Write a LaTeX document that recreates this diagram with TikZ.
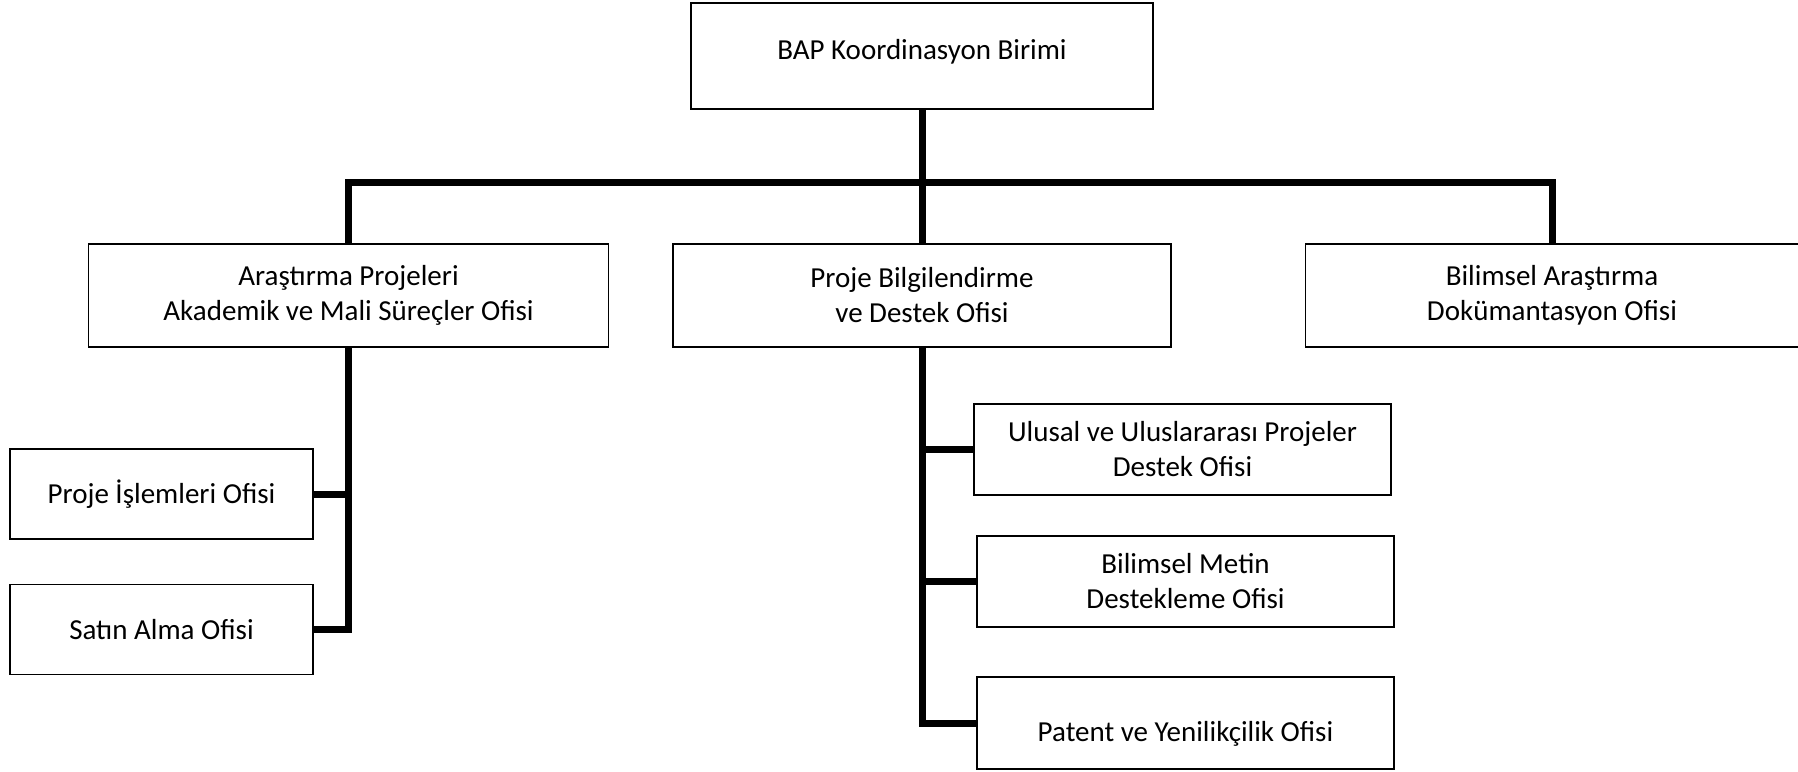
\documentclass[tikz,border=0pt]{standalone}
\usepackage{fontspec}
\setmainfont{Carlito}
\usetikzlibrary{positioning}
\tikzstyle{office} = [draw, line width=1.5pt, align=center, inner sep=0pt,
    font=\fontsize{29}{35}\selectfont]
\tikzstyle{link} = [line width=7pt]

\begin{document}
\begin{tikzpicture}[x=1pt, y=-1pt]

    \useasboundingbox (0, 0) rectangle (1798, 771);

    \node[office, minimum width=462, minimum height=106, text depth=14pt] (bap)
        at (922, 56) {BAP Koordinasyon Birimi};

    \node[office, minimum width=520, minimum height=103] (arge) at (348.5, 295.5)
        {Araştırma Projeleri\\Akademik ve Mali Süreçler Ofisi};
    \node[office, minimum width=498, minimum height=103] (bilgi) at (922, 295.5)
        {Proje Bilgilendirme\\ve Destek Ofisi};
    \node[office, minimum width=493, minimum height=103] (dokuman) at (1552, 295.5)
        {Bilimsel Araştırma\\Dokümantasyon Ofisi};

    \node[office, minimum width=303, minimum height=90] (islem) at (161.5, 494)
        {Proje İşlemleri Ofisi};
    \node[office, minimum width=303, minimum height=90] (satin) at (161.5, 629.5)
        {Satın Alma Ofisi};

    \node[office, minimum width=417, minimum height=91] (ulusal) at (1182.5, 449.5)
        {Ulusal ve Uluslararası Projeler\\Destek Ofisi};
    \node[office, minimum width=417, minimum height=91] (metin) at (1185.5, 581.5)
        {Bilimsel Metin\\Destekleme Ofisi};
    \node[office, minimum width=417, minimum height=92, text height=42pt] (patent)
        at (1185.5, 723) {Patent ve Yenilikçilik Ofisi};

    \coordinate (bus) at (922, 182);

    \draw[link] (bap.south) -- (bilgi.north);
    \draw[link] (arge.north) |- (bus) -| (dokuman.north);

    \draw[link] (arge.south) |- (satin.east);
    \draw[link] (islem.east) -- (islem.east -| arge.south);

    \draw[link] (bilgi.south) |- (patent.west);
    \foreach \office in {ulusal, metin} {%
        \draw[link] (\office.west) -- (\office.west -| bilgi.south);
    };

\end{tikzpicture}
\end{document}
